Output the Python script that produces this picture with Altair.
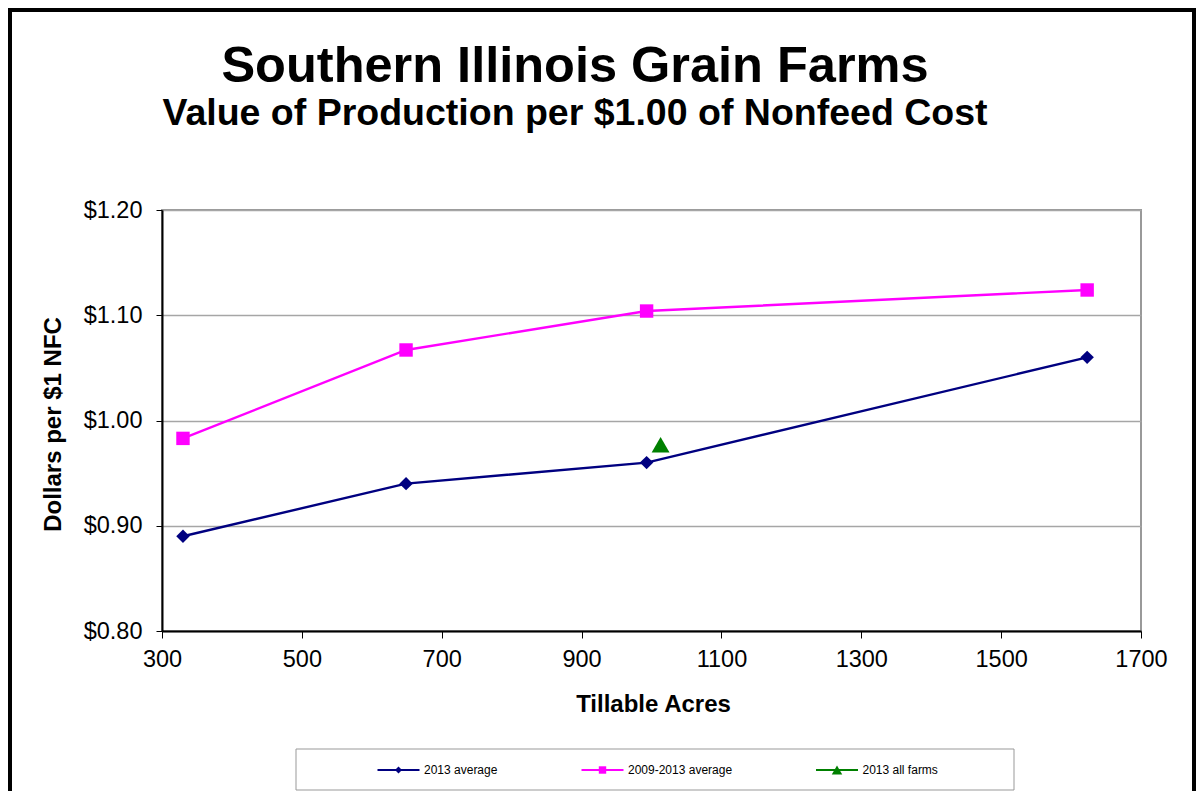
import altair as alt
import pandas as pd

# ---- data ----
series_names = ["2013 average", "2009-2013 average", "2013 all farms"]
series_colors = ["#000080", "#FF00FF", "#008000"]
series_shapes = ["diamond", "square", "triangle-up"]

acres_2013 = [330, 649, 993, 1623]
value_2013 = [0.89, 0.94, 0.96, 1.06]
acres_5yr = [330, 649, 993, 1623]
value_5yr = [0.983, 1.067, 1.104, 1.124]
acres_all = [1013]
value_all = [0.977]

x_ticks = [300, 500, 700, 900, 1100, 1300, 1500, 1700]
y_ticks = [0.80, 0.90, 1.00, 1.10, 1.20]

title_text = "Southern Illinois Grain Farms"
subtitle_text = "Value of Production per $1.00 of Nonfeed Cost"
x_title = "Tillable Acres"
y_title = "Dollars per $1 NFC"

FONT = "Liberation Sans"

rows = []
for a, v in zip(acres_2013, value_2013):
    rows.append({"series": series_names[0], "acres": a, "value": v})
for a, v in zip(acres_5yr, value_5yr):
    rows.append({"series": series_names[1], "acres": a, "value": v})
for a, v in zip(acres_all, value_all):
    rows.append({"series": series_names[2], "acres": a, "value": v})
df = pd.DataFrame(rows)

W, H = 979, 421

x_enc = alt.X(
    "acres:Q",
    scale=alt.Scale(domain=[x_ticks[0], x_ticks[-1]], nice=False, zero=False),
    axis=alt.Axis(
        values=x_ticks, title=x_title, grid=False, format="d", labelFlush=False,
        labelFont=FONT, labelFontSize=23.5, labelColor="#000",
        labelPadding=9, tickSize=7, tickColor="#000",
        domainColor="#000", domainWidth=2,
        titleFont=FONT, titleFontSize=24, titleFontWeight="bold", titleColor="#000",
        titleX=491, titleY=73, titleBaseline="middle", titleAlign="center",
    ),
)
y_enc = alt.Y(
    "value:Q",
    scale=alt.Scale(domain=[y_ticks[0], y_ticks[-1]], nice=False, zero=False),
    axis=alt.Axis(
        values=y_ticks, title=y_title, format="$.2f", grid=True, labelFlush=False,
        gridColor="#a6a6a6", gridWidth=1.3,
        labelFont=FONT, labelFontSize=23.5, labelColor="#000",
        labelPadding=14, tickSize=6, tickColor="#000",
        domainColor="#000", domainWidth=2,
        titleFont=FONT, titleFontSize=24, titleFontWeight="bold", titleColor="#000",
        titleX=-109, titleY=214, titleBaseline="middle", titleAlign="center", titleAngle=270,
    ),
)
color_enc = alt.Color("series:N", scale=alt.Scale(domain=series_names, range=series_colors), legend=None)
shape_enc = alt.Shape("series:N", scale=alt.Scale(domain=series_names, range=series_shapes), legend=None)

base = alt.Chart(df)
lines = base.mark_line(strokeWidth=2.4).encode(x=x_enc, y=y_enc, color=color_enc)
points_main = base.transform_filter(
    alt.datum.series != series_names[2]
).mark_point(filled=True, opacity=1, size=180).encode(
    x=x_enc, y=y_enc, color=color_enc, shape=shape_enc
)
points_all = base.transform_filter(
    alt.datum.series == series_names[2]
).mark_point(filled=True, opacity=1, size=320).encode(
    x=x_enc, y=y_enc, color=color_enc, shape=shape_enc
)

one = pd.DataFrame({"k": [0]})

# outer frame
frame = alt.Chart(one).mark_rect(fillOpacity=0, stroke="#000", strokeWidth=4).encode(
    x=alt.value(-152), x2=alt.value(1032), y=alt.value(-200), y2=alt.value(640)
)

# titles
t1 = alt.Chart(pd.DataFrame({"t": [title_text]})).mark_text(
    font=FONT, fontSize=50.5, fontWeight="bold", align="center", baseline="alphabetic", color="#000"
).encode(x=alt.value(413), y=alt.value(-128), text="t:N")
t2 = alt.Chart(pd.DataFrame({"t": [subtitle_text]})).mark_text(
    font=FONT, fontSize=37.5, fontWeight="bold", align="center", baseline="alphabetic", color="#000"
).encode(x=alt.value(413), y=alt.value(-85), text="t:N")

# legend box
legend_box = alt.Chart(one).mark_rect(fillOpacity=0, stroke="#999999", strokeWidth=1).encode(
    x=alt.value(134), x2=alt.value(852), y=alt.value(539), y2=alt.value(580)
)
legend_layers = [legend_box]
entry_x = [215.5, 419.5, 654]
legend_sizes = [50, 55, 110]
LY = 560
for name, col, shp, ex, sz in zip(series_names, series_colors, series_shapes, entry_x, legend_sizes):
    d = pd.DataFrame({"s": [name]})
    legend_layers.append(
        alt.Chart(d).mark_rule(color=col, strokeWidth=2).encode(
            x=alt.value(ex), x2=alt.value(ex + 42), y=alt.value(LY)
        )
    )
    legend_layers.append(
        alt.Chart(d).mark_point(filled=True, opacity=1, color=col, shape=shp, size=sz).encode(
            x=alt.value(ex + 21), y=alt.value(LY)
        )
    )
    legend_layers.append(
        alt.Chart(d).mark_text(font=FONT, fontSize=12, align="left", baseline="middle", color="#000").encode(
            x=alt.value(ex + 46.5), y=alt.value(LY), text="s:N"
        )
    )

chart = alt.layer(frame, lines, points_main, points_all, t1, t2, *legend_layers).properties(
    width=W, height=H,
    padding={"left": 154, "top": 202, "right": 55, "bottom": 160},
    autosize=alt.AutoSizeParams(type="none"),
    background="white",
).configure_view(stroke="#999999", strokeWidth=2)

chart.save("out.html", embed_options={"renderer": "svg", "actions": False})
